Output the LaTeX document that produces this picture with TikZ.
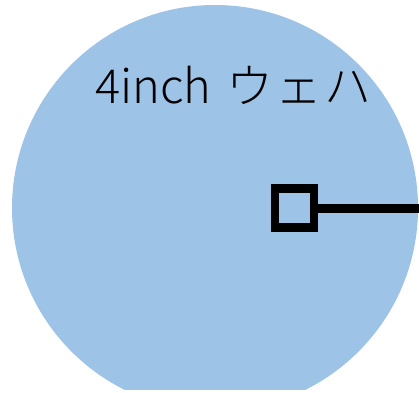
\documentclass[tikz,border=0pt]{standalone}
\usepackage{fontspec}
\newfontfamily\jpfont{Noto Sans CJK JP Light}
\definecolor{wafer}{HTML}{9DC3E6}
\tikzset{
  marker/.style={draw=black, line width=8.5pt, minimum size=39pt, inner sep=0pt, outer sep=0pt},
  lead/.style={draw=black, line width=9pt},
  label/.style={anchor=base west, inner sep=0pt, font=\jpfont\fontsize{47}{50}\selectfont}
}
\begin{document}
\begin{tikzpicture}[x=1pt,y=1pt]
\useasboundingbox (0,0) rectangle (419,392);
\begin{scope}
  \clip (0,3) rectangle (419,392);
  \fill[wafer] (215,184) circle (203);
\end{scope}
\node[label] (txt) at (95,289) {4inch\hspace{5pt} ウ\kern2ptェ\kern2ptハ};
\node[marker] (sq) at (294.5,184) {};
\coordinate (end) at (419,184);
\draw[lead] (sq.east) -- (end);
\end{tikzpicture}
\end{document}
